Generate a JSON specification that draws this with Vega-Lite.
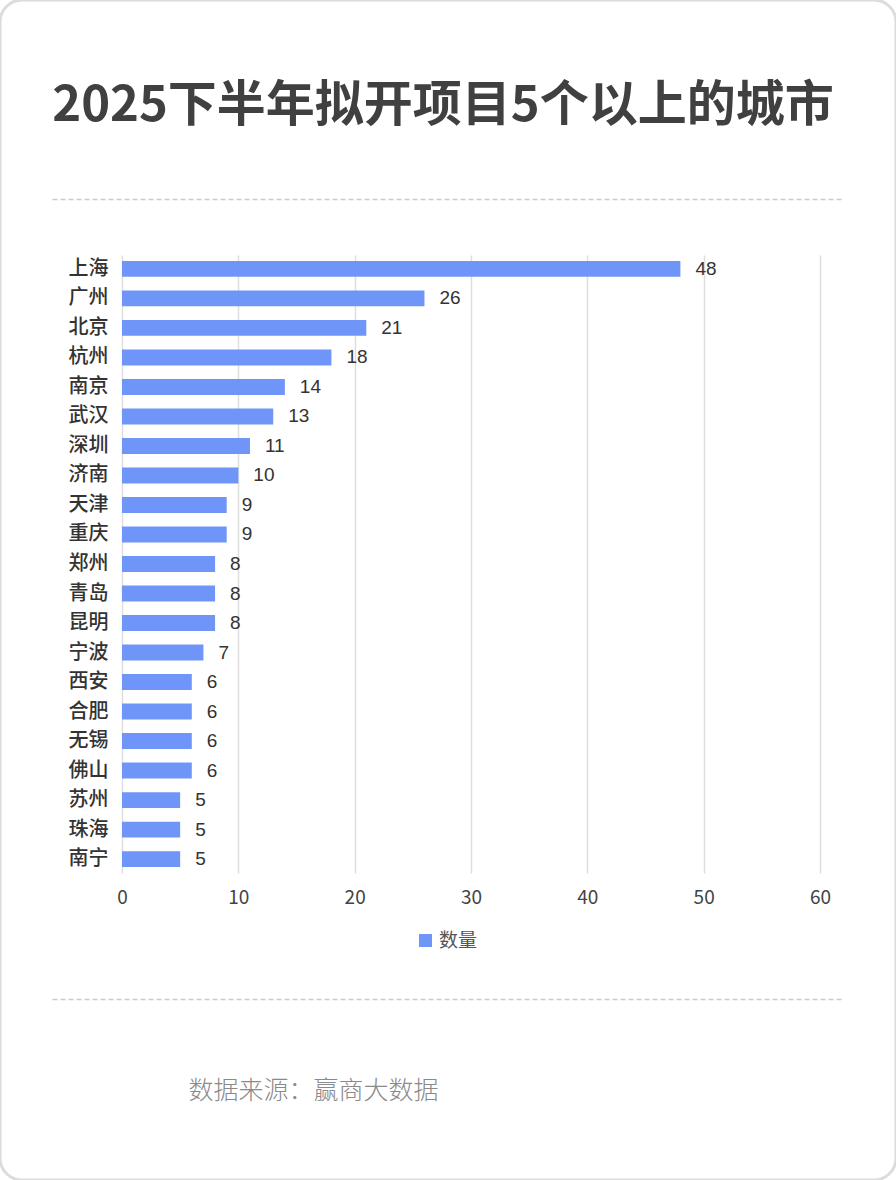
{
  "$schema": "https://vega.github.io/schema/vega-lite/v6.json",
  "width": 896,
  "height": 1180,
  "autosize": {"type": "none"},
  "padding": 0,
  "background": "white",
  "config": {
    "view": {"stroke": "#dcdcdc", "strokeWidth": 3, "cornerRadius": 22},
    "font": "Noto Sans CJK SC"
  },
  "title": {
    "text": "2025下半年拟开项目5个以上的城市",
    "fontSize": 49,
    "fontWeight": "bold",
    "color": "#404040",
    "anchor": "middle",
    "frame": "group",
    "baseline": "alphabetic",
    "offset": -170,
    "dx": -5
  },
  "data": {
    "values": [
      {"城市": "上海", "数量": 48},
      {"城市": "广州", "数量": 26},
      {"城市": "北京", "数量": 21},
      {"城市": "杭州", "数量": 18},
      {"城市": "南京", "数量": 14},
      {"城市": "武汉", "数量": 13},
      {"城市": "深圳", "数量": 11},
      {"城市": "济南", "数量": 10},
      {"城市": "天津", "数量": 9},
      {"城市": "重庆", "数量": 9},
      {"城市": "郑州", "数量": 8},
      {"城市": "青岛", "数量": 8},
      {"城市": "昆明", "数量": 8},
      {"城市": "宁波", "数量": 7},
      {"城市": "西安", "数量": 6},
      {"城市": "合肥", "数量": 6},
      {"城市": "无锡", "数量": 6},
      {"城市": "佛山", "数量": 6},
      {"城市": "苏州", "数量": 5},
      {"城市": "珠海", "数量": 5},
      {"城市": "南宁", "数量": 5}
    ]
  },
  "resolve": {"scale": {"x": "independent"}, "axis": {"x": "independent"}},
  "layer": [
    {
      "layer": [
        {
          "mark": {"type": "bar"},
          "encoding": {
            "y": {
              "field": "城市",
              "type": "nominal",
              "sort": null,
              "scale": {"range": [255, 873], "paddingInner": 0.46, "paddingOuter": 0.2},
              "axis": {
                "title": null,
                "offset": -122,
                "domain": false,
                "ticks": false,
                "labelPadding": 14,
                "labelFontSize": 20,
                "labelColor": "#333333",
                "labelFontWeight": 500
              }
            },
            "x": {
              "field": "数量",
              "type": "quantitative",
              "scale": {"domain": [0, 60], "range": [122, 820], "nice": false},
              "axis": {
                "orient": "top",
                "offset": -873,
                "values": [0, 10, 20, 30, 40, 50, 60],
                "grid": true,
                "gridColor": "#dedede",
                "gridWidth": 1.5,
                "domain": false,
                "ticks": false,
                "labelFlush": false,
                "labelPadding": -24,
                "labelBaseline": "middle",
                "labelFontSize": 19,
                "labelColor": "#444444",
                "title": "数据来源：赢商大数据",
                "titleX": 188,
                "titleY": 217,
                "titleAlign": "left",
                "titleBaseline": "middle",
                "titleFontSize": 25,
                "titleFontWeight": 300,
                "titleColor": "#8a8a8a"
              }
            },
            "color": {
              "datum": "数量",
              "scale": {"range": ["#6f95f8"]},
              "legend": {
                "title": null,
                "orient": "none",
                "legendX": 416,
                "legendY": 931,
                "symbolType": "square",
                "symbolSize": 170,
                "symbolStrokeWidth": 0,
                "labelFontSize": 19,
                "labelColor": "#555555"
              }
            }
          }
        },
        {
          "mark": {"type": "text", "align": "left", "baseline": "middle", "dx": 15, "fontSize": 19, "color": "#333333", "font": "Liberation Sans"},
          "encoding": {
            "y": {"field": "城市", "type": "nominal", "sort": null},
            "x": {"field": "数量", "type": "quantitative"},
            "text": {"field": "数量", "type": "quantitative"}
          }
        }
      ]
    },
    {
      "mark": {"type": "rule", "opacity": 0},
      "encoding": {
        "x": {
          "field": "数量",
          "type": "quantitative",
          "scale": {"domain": [0, 60], "range": [52, 842], "nice": false},
          "axis": {"orient": "top", "offset": -199, "domain": true, "domainColor": "#cccccc", "domainWidth": 1.5, "domainDash": [5, 3], "ticks": false, "labels": false, "grid": false, "title": null}
        }
      }
    },
    {
      "mark": {"type": "rule", "opacity": 0},
      "encoding": {
        "x": {
          "field": "数量",
          "type": "quantitative",
          "scale": {"domain": [0, 60], "range": [52, 842], "nice": false},
          "axis": {"orient": "bottom", "offset": -181, "domain": true, "domainColor": "#cccccc", "domainWidth": 1.5, "domainDash": [5, 3], "ticks": false, "labels": false, "grid": false, "title": null}
        }
      }
    }
  ]
}
